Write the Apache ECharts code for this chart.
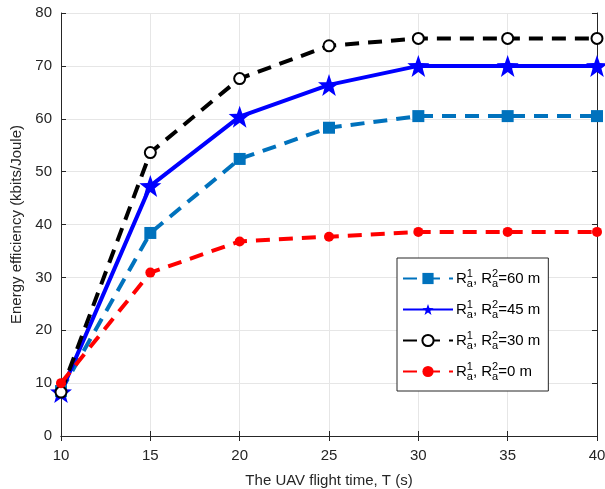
<!DOCTYPE html>
<html>
<head>
<meta charset="utf-8">
<script src="https://cdn.jsdelivr.net/npm/echarts@6/dist/echarts.min.js"></script>
<style>
  body { margin: 0; background: #fff; }
  #chart { width: 605px; height: 489px; }
</style>
</head>
<body>
<div id="chart"></div>
<script>
// flight time T (s)
var flightTime = [10, 15, 20, 25, 30, 35, 40];
// energy efficiency (kbits/Joule)
var ee60 = [8.5, 38.4, 52.4, 58.3, 60.5, 60.5, 60.5];
var ee45 = [8.3, 47.3, 60.4, 66.4, 70.0, 70.0, 70.0];
var ee30 = [8.3, 53.6, 67.6, 73.8, 75.2, 75.2, 75.2];
var ee0  = [10.0, 30.9, 36.8, 37.7, 38.6, 38.6, 38.6];
var legendNames = ['60 m', '45 m', '30 m', '0 m'];

var starPath = 'path://M0,-10L2.35,-3.24L9.51,-3.09L3.8,1.24L5.88,8.09L0,4L-5.88,8.09L-3.8,1.24L-9.51,-3.09L-2.35,-3.24Z';
var font = 'Liberation Sans, Arial, sans-serif';

function pairs(ys) {
  return flightTime.map(function (x, i) { return [x, ys[i]]; });
}

var chart = echarts.init(document.getElementById('chart'));

var dash = [14, 9];
chart.setOption({
  animation: false,
  backgroundColor: '#fff',
  grid: { left: 61, right: 8, top: 13, bottom: 53, outerBoundsMode: 'none' },
  xAxis: [{
    type: 'value', min: 10, max: 40, interval: 5,
    name: 'The UAV flight time, T (s)', nameLocation: 'middle', nameGap: 37,
    nameTextStyle: { fontFamily: font, fontSize: 15, color: '#262626' },
    axisLine: { lineStyle: { color: '#262626' } },
    axisTick: { inside: true, length: 5, lineStyle: { color: '#262626' } },
    axisLabel: { fontFamily: font, fontSize: 15, color: '#262626', margin: 12 },
    splitLine: { lineStyle: { color: '#e6e6e6' } }
  }, {
    type: 'value', min: 10, max: 40, interval: 5, position: 'top',
    axisLine: { lineStyle: { color: '#262626' } },
    axisTick: { inside: true, length: 5, lineStyle: { color: '#262626' } },
    axisLabel: { show: false }, splitLine: { show: false }
  }],
  yAxis: [{
    type: 'value', min: 0, max: 80, interval: 10,
    name: 'Energy efficiency (kbits/Joule)', nameLocation: 'middle', nameGap: 36,
    nameTextStyle: { fontFamily: font, fontSize: 15, color: '#262626' },
    axisLine: { show: true, lineStyle: { color: '#262626' } },
    axisTick: { show: true, inside: true, length: 5, lineStyle: { color: '#262626' } },
    axisLabel: { fontFamily: font, fontSize: 15, color: '#262626', margin: 9 },
    splitLine: { lineStyle: { color: '#e6e6e6' } }
  }, {
    type: 'value', min: 0, max: 80, interval: 10, position: 'right',
    axisLine: { show: true, lineStyle: { color: '#262626' } },
    axisTick: { show: true, inside: true, length: 5, lineStyle: { color: '#262626' } },
    axisLabel: { show: false }, splitLine: { show: false }
  }],
  legend: {
    orient: 'vertical',
    left: 397, top: 258,
    padding: [10, 8, 9, 5],
    itemGap: 10,
    itemWidth: 50, itemHeight: 14,
    backgroundColor: '#fff',
    borderColor: '#262626', borderWidth: 1,
    borderRadius: 0,
    textStyle: {
      fontFamily: font, fontSize: 15, color: '#000', padding: [0, 0, 0, -2],
      rich: {
        sup: { fontFamily: font, fontSize: 11, width: 0, verticalAlign: 'top', padding: [0, 0, 10, 0] },
        sub: { fontFamily: font, fontSize: 11, verticalAlign: 'bottom', padding: [10, 0, 0, 0] }
      }
    },
    formatter: function (name) {
      return 'R{sup|1}{sub|a}, R{sup|2}{sub|a}=' + name;
    },
    data: legendNames
  },
  series: [{
    name: legendNames[0], type: 'line', data: pairs(ee60),
    symbol: 'rect', symbolSize: 12,
    lineStyle: { color: '#0072BD', width: 4, type: dash },
    itemStyle: { color: '#0072BD' }
  }, {
    name: legendNames[1], type: 'line', data: pairs(ee45),
    symbol: starPath, symbolSize: 22,
    lineStyle: { color: '#0000FF', width: 4 },
    itemStyle: { color: '#0000FF' }
  }, {
    name: legendNames[2], type: 'line', data: pairs(ee30),
    symbol: 'emptyCircle', symbolSize: 11,
    lineStyle: { color: '#000', width: 4, type: dash },
    itemStyle: { color: '#000', borderWidth: 5 }
  }, {
    name: legendNames[3], type: 'line', data: pairs(ee0),
    symbol: 'circle', symbolSize: 10,
    lineStyle: { color: '#FF0000', width: 4, type: dash },
    itemStyle: { color: '#FF0000' }
  }]
});
</script>
</body>
</html>
